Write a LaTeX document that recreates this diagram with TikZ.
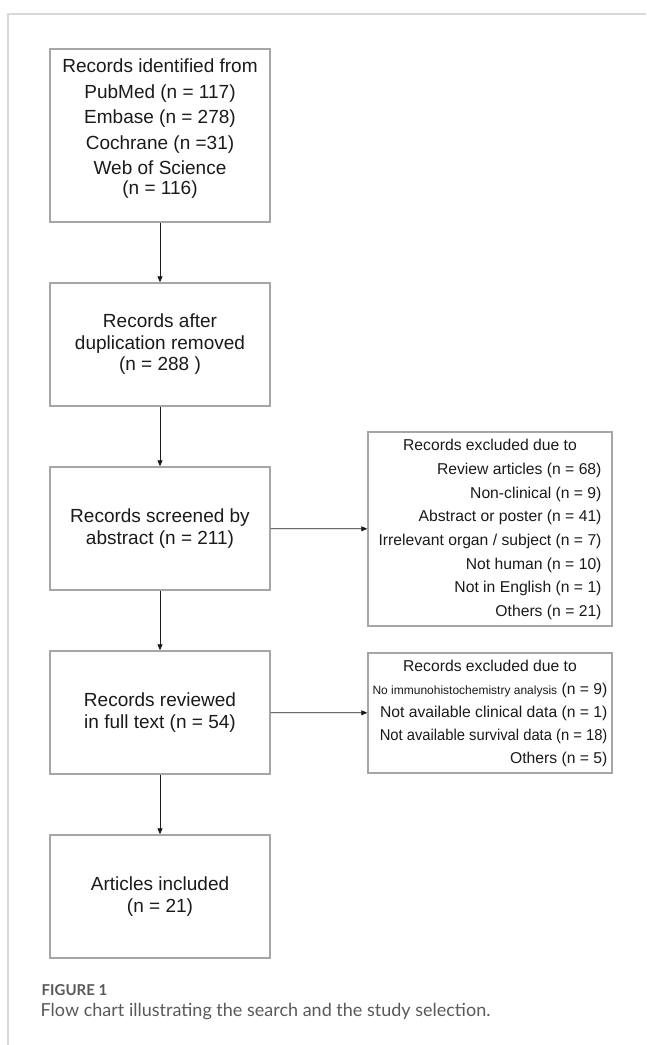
\documentclass[tikz,border=0pt]{standalone}
\usepackage{fontspec}
\setmainfont{Liberation Sans}
\newfontfamily\capfont{Lato}
\usetikzlibrary{arrows.meta}
\definecolor{boxgray}{HTML}{A6A6A6}
\definecolor{framegray}{HTML}{D9D9D9}
\definecolor{capgray}{HTML}{595959}
\definecolor{inkblack}{HTML}{1A1A1A}

\begin{document}
\begin{tikzpicture}[x=1pt, y=-1pt,
  >={Triangle[length=6pt,width=5pt]},
  mainbox/.style={draw=boxgray, line width=1.4pt, minimum width=220, minimum height=123,
    align=center, text=inkblack, font=\fontsize{19}{21.5}\selectfont},
  exclbox/.style={draw=boxgray, line width=1.4pt, minimum width=244, inner sep=0pt,
    text=inkblack, font=\fontsize{15.7}{23.7}\selectfont},
  flow/.style={draw=inkblack, line width=0.8pt}]
\useasboundingbox (0,0) rectangle (646,1045);
\draw[framegray, line width=1.5pt] (646,14) -- (8,14) -- (8,1045);

\node[mainbox, minimum height=173] at (160,135.5) (ident) {};
\node[align=center, text=inkblack, font=\fontsize{19}{21.5}\selectfont] at (160,128.5) (identtxt)
  {Records identified from\\[4pt] PubMed (n = 117)\\[4pt] Embase (n = 278)\\[4pt]
   Cochrane (n =31)\\[4pt] Web of Science\\[-2pt] (n = 116)};
\node[mainbox] at (160,344.5) (dedup) {Records after\\duplication removed\\(n = 288 )};
\node[mainbox] at (160,528.5) (screen) {Records screened by\\abstract (n = 211)};
\node[mainbox] at (160,712.5) (review) {Records reviewed\\in full text (n = 54)};
\node[mainbox] at (160,896.5) (incl) {Articles included\\(n = 21)};

\node[exclbox, minimum height=194] at (490,529) (exclabs) {%
  \begin{tabular}{@{}r@{}}
  \multicolumn{1}{@{}c@{}}{Records excluded due to}\\
  Review articles (n = 68)\\
  Non-clinical (n = 9)\\
  Abstract or poster (n = 41)\\
  Irrelevant organ / subject (n = 7)\\
  Not human (n = 10)\\
  Not in English (n = 1)\\
  Others (n = 21)
  \end{tabular}};
\node[exclbox, minimum height=120, font=\fontsize{15.7}{23}\selectfont] at (490,713) (exclfull) {%
  \begin{tabular}{@{}r@{}}
  \multicolumn{1}{@{}c@{}}{Records excluded due to}\\
  {\fontsize{12}{14}\selectfont No immunohistochemistry analysis} (n = 9)\\
  Not available clinical data (n = 1)\\
  \scalebox{0.94}[1]{Not available survival data (n = 18)}\\
  Others (n = 5)
  \end{tabular}};

\draw[flow, ->] (ident) -- (dedup);
\draw[flow, ->] (dedup) -- (screen);
\draw[flow, ->] (screen) -- (review);
\draw[flow, ->] (review) -- (incl);
\draw[flow, ->] (screen) -- (exclabs);
\draw[flow, ->] (review) -- (exclfull);

\node[anchor=base west, inner sep=0pt, text=capgray,
  font=\capfont\bfseries\fontsize{15}{17}\selectfont] at (41.5,995) (figlabel) {FIGURE 1};
\node[anchor=base west, inner sep=0pt, text=capgray,
  font=\capfont\fontsize{18}{20}\selectfont] at (40.5,1016) (figcaption)
  {Flow chart illustrating the search and the study selection.};
\end{tikzpicture}
\end{document}
